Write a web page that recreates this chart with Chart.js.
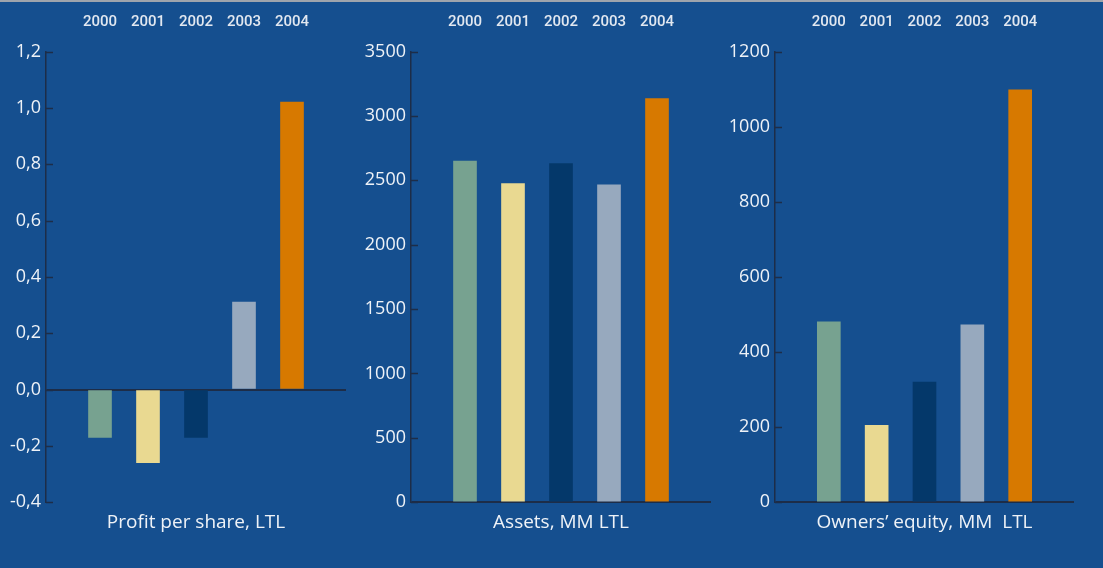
<!DOCTYPE html>
<html>
<head>
<meta charset="utf-8">
<script src="https://cdn.jsdelivr.net/npm/chart.js@4"></script>
<style>
  html, body { margin: 0; padding: 0; }
  body { width: 1103px; height: 568px; background: #154f8f; position: relative; overflow: hidden; }
  .strip { position: absolute; left: 0; top: 0; width: 1103px; height: 2px; background: #9ea4ac; }
  .box { position: absolute; top: 0; height: 568px; }
</style>
</head>
<body>
<div class="strip"></div>
<div class="box" style="left:0;width:360px"><canvas id="profitChart"></canvas></div>
<div class="box" style="left:355px;width:370px"><canvas id="assetsChart"></canvas></div>
<div class="box" style="left:725px;width:378px"><canvas id="equityChart"></canvas></div>
<script>
// ===== DATA =====
const years = ['2000', '2001', '2002', '2003', '2004'];
const barColors = ['#77a290', '#e9d991', '#04386a', '#97a9be', '#d77900'];

const profitValues = [-0.17, -0.26, -0.17, 0.31, 1.02];
const assetsValues = [2650, 2475, 2630, 2465, 3135];
const equityValues = [480, 205, 320, 472, 1098];

const profitTitle = 'Profit per share, LTL';
const assetsTitle = 'Assets, MM LTL';
const equityTitle = 'Owners\u2019 equity, MM  LTL';

const axisColor = '#1d2d48';
const textColor = '#eef2f7';

// small inward tick marks on the y axis
const innerTicks = {
  id: 'innerTicks',
  afterDraw(chart) {
    const y = chart.scales.y;
    const ctx = chart.ctx;
    const left = chart.chartArea.left;
    ctx.save();
    ctx.strokeStyle = axisColor;
    ctx.lineWidth = 1.5;
    y.ticks.forEach(t => {
      const py = Math.round(y.getPixelForValue(t.value)) + 0.5;
      ctx.beginPath();
      ctx.moveTo(left, py);
      ctx.lineTo(left + 7, py);
      ctx.stroke();
    });
    ctx.restore();
  }
};

function makeChart(id, values, yMin, yMax, step, fmt, title, yWidth, padRight) {
  const canvas = document.getElementById(id);
  return new Chart(canvas, {
    type: 'bar',
    data: {
      datasets: [{
        data: values.map((v, i) => ({ x: i, y: v })),
        backgroundColor: barColors,
        barThickness: 23,
        borderWidth: 0
      }]
    },
    options: {
      responsive: true,
      maintainAspectRatio: false,
      animation: false,
      layout: { padding: { left: 0, right: padRight, top: 0, bottom: 0 } },
      plugins: {
        legend: { display: false },
        tooltip: { enabled: false },
        title: {
          display: true,
          text: title,
          position: 'bottom',
          fullSize: false,
          color: textColor,
          font: { family: '"Open Sans", sans-serif', size: 19, weight: 'normal' },
          padding: { top: 9, bottom: 34 }
        }
      },
      scales: {
        x: {
          type: 'linear',
          position: 'top',
          offset: false,
          min: -1.125,
          max: 5.125,
          grid: { display: false, offset: false },
          border: { display: false },
          afterBuildTicks: s => { s.ticks = years.map((_, i) => ({ value: i })); },
          afterFit: s => { s.height = 51.5; },
          ticks: {
            padding: 12,
            autoSkip: false,
            maxRotation: 0,
            color: '#e2e8f0',
            font: { family: 'Roboto, sans-serif', size: 15, weight: 500 },
            callback: v => years[v]
          }
        },
        y: {
          min: yMin,
          max: yMax,
          afterFit: s => { s.width = yWidth; },
          border: { display: true, color: axisColor, width: 1.5 },
          grid: {
            drawTicks: false,
            lineWidth: 2,
            color: c => (c.tick && Math.abs(c.tick.value) < 1e-9) ? axisColor : 'transparent'
          },
          ticks: {
            stepSize: step,
            padding: 5,
            color: textColor,
            font: { family: '"Open Sans", sans-serif', size: 18 },
            callback: fmt
          }
        }
      }
    },
    plugins: [innerTicks]
  });
}

const commaFmt = v => (Math.abs(v) < 1e-9 ? 0 : v).toFixed(1).replace('.', ',');
const intFmt = v => String(Math.round(v));

makeChart('profitChart', profitValues, -0.4, 1.2, 0.2, commaFmt, profitTitle, 46, 14);
makeChart('assetsChart', assetsValues, 0, 3500, 500, intFmt, assetsTitle, 56, 14);
makeChart('equityChart', equityValues, 0, 1200, 200, intFmt, equityTitle, 50, 29);
</script>
</body>
</html>
